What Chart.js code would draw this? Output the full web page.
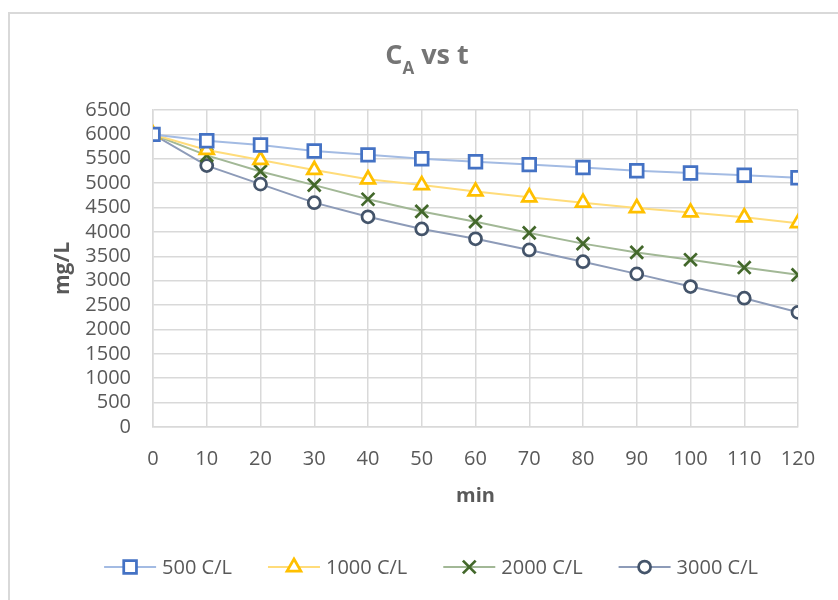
<!DOCTYPE html>
<html>
<head>
<meta charset="utf-8">
<script src="https://cdn.jsdelivr.net/npm/chart.js@4.4.1/dist/chart.umd.min.js"></script>
<style>
  html, body { margin: 0; padding: 0; background: #fff; }
</style>
</head>
<body>
<canvas id="ca-graph" width="838" height="600"></canvas>
<script>
/* global Chart */

const minutes = [0, 10, 20, 30, 40, 50, 60, 70, 80, 90, 100, 110, 120];
const ca500  = [6000, 5870, 5780, 5660, 5580, 5500, 5440, 5380, 5320, 5255, 5210, 5160, 5110];
const ca1000 = [6000, 5680, 5475, 5270, 5080, 4960, 4830, 4710, 4600, 4490, 4400, 4300, 4180];
const ca2000 = [6000, 5570, 5240, 4960, 4670, 4420, 4210, 3980, 3760, 3580, 3430, 3270, 3120];
const ca3000 = [6000, 5360, 4980, 4600, 4310, 4060, 3860, 3630, 3390, 3140, 2880, 2640, 2350];
const seriesNames = ['500 C/L', '1000 C/L', '2000 C/L', '3000 C/L'];

const FONT = '"Open Sans", "Noto Sans", sans-serif';
const TEXT = '#595959';
const GRID = '#d9d9d9';

(() => {
  const toPoints = vals => vals.map((v, i) => ({ x: minutes[i], y: v }));

  function series(label, vals, line, marker, style, radius) {
    return {
      label,
      data: toPoints(vals),
      borderColor: line,
      borderWidth: 2,
      pointStyle: style,
      pointRadius: radius,
      pointHoverRadius: radius,
      pointBorderColor: marker,
      pointBackgroundColor: '#fff',
      pointBorderWidth: 2.75,
      fill: false,
      tension: 0
    };
  }

  // frame round the whole chart
  const frame = {
    id: 'frame',
    beforeDraw(chart) {
      const ctx = chart.ctx;
      ctx.save();
      ctx.strokeStyle = GRID;
      ctx.lineWidth = 2;
      ctx.strokeRect(9, 13, chart.width + 20, chart.height + 20);
      ctx.restore();
    }
  };

  // title with subscript A
  const subTitle = {
    id: 'subTitle',
    afterDraw(chart) {
      const ctx = chart.ctx;
      const parts = [['C', 27, 0], ['A', 17, 10], [' vs t', 27, 0]];
      ctx.save();
      ctx.fillStyle = '#757575';
      ctx.textBaseline = 'alphabetic';
      ctx.textAlign = 'left';
      let w = 0;
      parts.forEach(p => { ctx.font = `bold ${p[1]}px ${FONT}`; w += ctx.measureText(p[0]).width; });
      let x = 427 - w / 2;
      parts.forEach(p => {
        ctx.font = `bold ${p[1]}px ${FONT}`;
        ctx.fillText(p[0], x, 64 + p[2]);
        x += ctx.measureText(p[0]).width;
      });
      ctx.restore();
    }
  };

  // legend: line segment with the marker on it, then the name
  const lineLegend = {
    id: 'lineLegend',
    afterDraw(chart) {
      const ctx = chart.ctx;
      const y = 567, seg = 52, gapText = 6, gapItem = 36;
      ctx.save();
      ctx.font = `20px ${FONT}`;
      ctx.textBaseline = 'middle';
      ctx.textAlign = 'left';
      const sets = chart.data.datasets;
      const widths = sets.map(ds => seg + gapText + ctx.measureText(ds.label).width);
      const total = widths.reduce((a, b) => a + b, 0) + gapItem * (sets.length - 1);
      let x = 431 - total / 2;
      sets.forEach((ds, i) => {
        ctx.strokeStyle = ds.borderColor;
        ctx.lineWidth = 2;
        ctx.beginPath();
        ctx.moveTo(x, y);
        ctx.lineTo(x + seg, y);
        ctx.stroke();
        ctx.fillStyle = '#fff';
        ctx.strokeStyle = ds.pointBorderColor;
        ctx.lineWidth = ds.pointBorderWidth;
        Chart.helpers.drawPoint(ctx, {
          pointStyle: ds.pointStyle,
          radius: ds.pointRadius,
          borderWidth: ds.pointBorderWidth,
          rotation: 0
        }, x + seg / 2, y);
        ctx.fillStyle = TEXT;
        ctx.fillText(ds.label, x + seg + gapText, y + 1);
        x += widths[i] + gapItem;
      });
      ctx.restore();
    }
  };

  new Chart('ca-graph', {
    type: 'line',
    data: {
      datasets: [
        series(seriesNames[0], ca500,  '#a3bbe3', '#4472c4', 'rect', 9),
        series(seriesNames[1], ca1000, '#ffdc7a', '#ffc000', 'triangle', 8),
        series(seriesNames[2], ca2000, '#a2b896', '#43682b', 'crossRot', 9),
        series(seriesNames[3], ca3000, '#8d9bb8', '#44546a', 'circle', 6)
      ]
    },
    options: {
      responsive: false,
      animation: false,
      layout: { padding: { top: 110, left: 0, right: 40, bottom: 0 } },
      plugins: {
        legend: { display: false },
        title: { display: false },
        tooltip: { enabled: false }
      },
      scales: {
        x: {
          type: 'linear',
          min: 0,
          max: 120,
          ticks: {
            stepSize: 10, autoSkip: false, maxRotation: 0, padding: 20, color: TEXT,
            font: { family: FONT, size: 20 },
            callback: v => String(v)
          },
          grid: { color: GRID, lineWidth: 1.5, drawTicks: false },
          border: { color: GRID, width: 1.5 },
          title: {
            display: true, text: 'min', color: TEXT,
            font: { family: FONT, size: 20, weight: 'bold' },
            padding: { top: 0, bottom: 92 }
          },
          afterFit(scale) { scale.height = 173; }
        },
        y: {
          min: 0,
          max: 6500,
          ticks: {
            stepSize: 500, autoSkip: false, padding: 22, color: TEXT,
            font: { family: FONT, size: 20 },
            callback: v => String(v)
          },
          grid: { color: GRID, lineWidth: 1.5, drawTicks: false },
          border: { color: GRID, width: 1.5 },
          title: {
            display: true, text: 'mg/L', color: TEXT,
            font: { family: FONT, size: 21, weight: 'bold' },
            padding: { top: 50, bottom: 0 }
          },
          afterFit(scale) { scale.width = 153; }
        }
      }
    },
    plugins: [frame, subTitle, lineLegend]
  });
})();
</script>
</body>
</html>
